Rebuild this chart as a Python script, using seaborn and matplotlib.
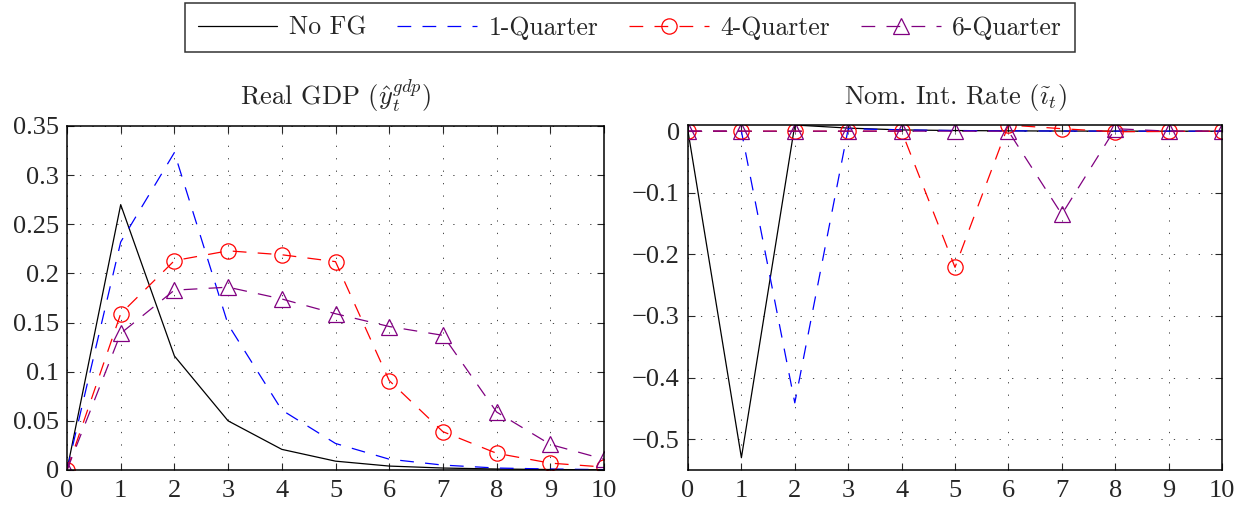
import numpy as np
import pandas as pd
import matplotlib
matplotlib.use("Agg")
import matplotlib.pyplot as plt
import seaborn as sns

# ---- data ----
quarters = list(range(11))
series_names = ["No FG", "1-Quarter", "4-Quarter", "6-Quarter"]

gdp_nofg = [0.0, 0.270, 0.116, 0.050, 0.021, 0.009, 0.004, 0.002, 0.001, 0.0005, 0.0002]
gdp_q1 = [0.0, 0.232, 0.323, 0.148, 0.061, 0.027, 0.011, 0.005, 0.002, 0.001, 0.0004]
gdp_q4 = [0.0, 0.159, 0.213, 0.223, 0.219, 0.212, 0.091, 0.039, 0.017, 0.007, 0.003]
gdp_q6 = [0.0, 0.139, 0.183, 0.186, 0.174, 0.159, 0.146, 0.137, 0.059, 0.026, 0.011]

rate_nofg = [0.0, -0.530, 0.010, 0.005, 0.002, 0.001, 0.0005, 0.0002, 0.0001, 0.0, 0.0]
rate_q1 = [0.0, 0.0, -0.441, 0.004, 0.002, 0.001, 0.0005, 0.0002, 0.0001, 0.0, 0.0]
rate_q4 = [0.0, 0.0, 0.0, 0.0, 0.0, -0.221, 0.010, 0.004, -0.001, -0.0005, 0.0]
rate_q6 = [0.0, 0.0, 0.0, 0.0, 0.0, 0.0, 0.0, -0.135, 0.004, 0.0, 0.0]

titles = [r"Real GDP ($\hat{y}_t^{gdp}$)", r"Nom. Int. Rate ($\tilde{\imath}_t$)"]
gdp_yticks = [0, 0.05, 0.1, 0.15, 0.2, 0.25, 0.3, 0.35]
gdp_yticklabels = ["0", "0.05", "0.1", "0.15", "0.2", "0.25", "0.3", "0.35"]
rate_yticks = [-0.5, -0.4, -0.3, -0.2, -0.1, 0]
rate_yticklabels = ["\u22120.5", "\u22120.4", "\u22120.3", "\u22120.2", "\u22120.1", "0"]

# ---- style ----
sns.set_style("ticks")
plt.rcParams["font.family"] = ["Liberation Serif", "DejaVu Serif"]
plt.rcParams["mathtext.fontset"] = "cm"

DASH = (0, (11, 9))
styles = {
    "No FG": dict(color="black", linestyle="-", marker=None),
    "1-Quarter": dict(color="blue", linestyle=DASH, marker=None),
    "4-Quarter": dict(color="red", linestyle=DASH, marker="o"),
    "6-Quarter": dict(color="purple", linestyle=DASH, marker="^"),
}

fig = plt.figure(figsize=(12.46, 5.08), dpi=100)
ax1 = fig.add_axes([67 / 1246, 38 / 508, 537 / 1246, 344 / 508])
ax2 = fig.add_axes([688 / 1246, 38 / 508, 534 / 1246, 345 / 508])

panels = [
    (ax1, [gdp_nofg, gdp_q1, gdp_q4, gdp_q6], (0, 0.35), gdp_yticks, gdp_yticklabels),
    (ax2, [rate_nofg, rate_q1, rate_q4, rate_q6], (-0.55, 0.01), rate_yticks, rate_yticklabels),
]

for i, (ax, data, ylim, yt, ytl) in enumerate(panels):
    for name, vals in zip(series_names, data):
        st = styles[name]
        kw = dict(color=st["color"], linestyle=st["linestyle"], linewidth=0.9)
        if st["marker"]:
            kw.update(marker=st["marker"], markersize=11, markerfacecolor="none",
                      markeredgecolor=st["color"], markeredgewidth=0.9)
        sns.lineplot(x=quarters, y=vals, ax=ax, label=name if i == 0 else None,
                     legend=False, **kw)
    ax.set_xlim(0, 10)
    ax.set_ylim(*ylim)
    ax.set_xticks(quarters)
    ax.set_xticklabels([str(q) for q in quarters])
    ax.set_yticks(yt)
    ax.set_yticklabels(ytl)
    ax.grid(True, linestyle=(0, (1.3, 11.5)), color="#444444", linewidth=0.7)
    ax.tick_params(direction="in", top=True, right=True, length=5, width=0.8,
                   labelsize=19)
    ax.tick_params(axis="x", pad=7)
    ax.tick_params(axis="y", pad=6)
    for sp in ax.spines.values():
        sp.set_visible(True)
        sp.set_linewidth(1.1)
        sp.set_color("black")
    ax.set_title(titles[i], fontsize=19, pad=15, fontfamily="cmr10")
    ax.set_xlabel("")
    ax.set_ylabel("")

h, l = ax1.get_legend_handles_labels()
leg = fig.legend(h, l, loc="upper center", bbox_to_anchor=(630 / 1246, 1 - 3 / 508),
                 borderaxespad=0, ncol=4, frameon=True, fancybox=False,
                 edgecolor="black", prop={"family": "cmr10", "size": 18.5},
                 handlelength=3.1, columnspacing=1.2, handletextpad=0.45,
                 borderpad=0.5, numpoints=1)
leg.get_frame().set_linewidth(1.1)

fig.savefig("out.png", dpi=100)
